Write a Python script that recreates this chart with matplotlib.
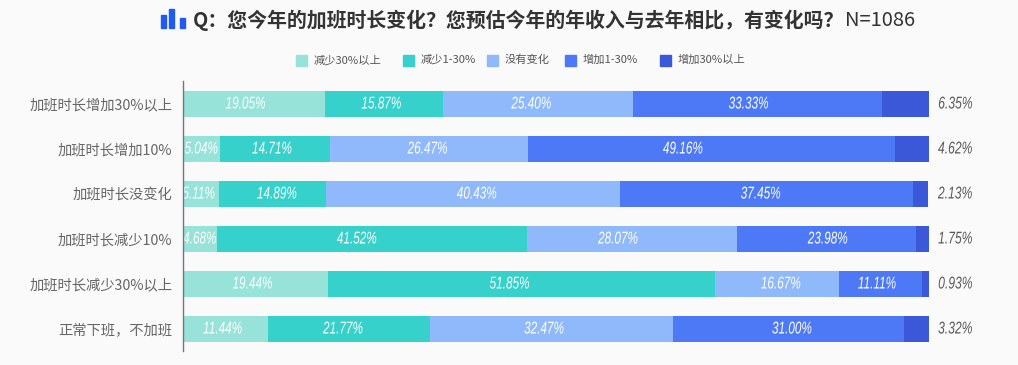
import matplotlib
matplotlib.use("Agg")
from matplotlib import pyplot as plt
from matplotlib.patches import Rectangle
from matplotlib.patheffects import AbstractPathEffect
from matplotlib.transforms import Affine2D

plt.rcParams['font.family'] = ['Noto Sans CJK SC', 'DejaVu Sans']

categories = ['加班时长增加30%以上', '加班时长增加10%', '加班时长没变化',
              '加班时长减少10%', '加班时长减少30%以上', '正常下班，不加班']
series_names = ['减少30%以上', '减少1-30%', '没有变化', '增加1-30%', '增加30%以上']
cut_30 = [19.05, 5.04, 5.11, 4.68, 19.44, 11.44]
cut_1_30 = [15.87, 14.71, 14.89, 41.52, 51.85, 21.77]
same = [25.40, 26.47, 40.43, 28.07, 16.67, 32.47]
up_1_30 = [33.33, 49.16, 37.45, 23.98, 11.11, 31.00]
up_30 = [6.35, 4.62, 2.13, 1.75, 0.93, 3.32]
series = [cut_30, cut_1_30, same, up_1_30, up_30]
# third row: the bars as drawn do not follow the printed numbers
row3_drawn = [4.9, 14.3, 39.4, 39.2, 2.1]
colors = ['#97e3da', '#37d1cb', '#8fb9fa', '#4d79f6', '#3a58d8']

# labels in the original sit off centre, pixels per series then row
label_nudge = [[-8, 0, -2, 0, -2.5, -2.5],
               [-2.5, -3, 4.5, -15.5, -11.5, -6],
               [-6.5, -1, 4, -14, 4, -7.5],
               [-8.5, -28, -5.5, 1.5, -3.5, 3.5]]


# no condensed italic installed, so squeeze the glyphs of a normal one
class Squeeze(AbstractPathEffect):
    def __init__(self, sx, anchor='center'):
        super().__init__()
        self.sx = sx
        self.anchor = anchor

    def draw_path(self, renderer, gc, tpath, affine, rgbFace=None):
        ext = tpath.get_extents()
        x0 = ext.x0 if self.anchor == 'left' else (ext.x0 + ext.x1) / 2
        t = Affine2D().translate(-x0, 0).scale(self.sx, 1).translate(x0, 0)
        renderer.draw_path(gc, tpath, t + affine, rgbFace)


W, H = 1018, 365
fig = plt.figure(figsize=(W / 100, H / 100), dpi=100, facecolor='#fafafa')

# axes placed in pixel terms, y runs down through the rows
ax = fig.add_axes([182.5 / W, 1 - 351 / H, (929 - 182.5) / W, 270 / H])
ax.set_facecolor('#fafafa')
ax.set_xlim(0, 100)
ax.set_ylim(5.489, -0.511)
for s in ['top', 'right', 'bottom']:
    ax.spines[s].set_visible(False)
ax.spines['left'].set_color('#75757f')
ax.spines['left'].set_linewidth(1)
ax.spines['left'].set_zorder(5)
ax.set_xticks([])
ax.set_yticks(range(len(categories)))
ax.set_yticklabels(categories, fontsize=10.3, color='#666666')
ax.tick_params(axis='y', length=0, pad=7.5)

num_font = dict(family=['Liberation Sans', 'DejaVu Sans'], style='italic', fontsize=12.3)

left = [0] * len(categories)
for i, vals in enumerate(series):
    widths = list(vals)
    widths[2] = row3_drawn[i]
    ax.barh(range(len(categories)), widths, left=left, height=26 / 45, color=colors[i])
    for r, v in enumerate(vals):
        if i < 4:
            ax.annotate('%.2f%%' % v, (left[r] + widths[r] / 2, r),
                        xytext=(label_nudge[i][r], 0), textcoords='offset pixels',
                        ha='center', va='center', color='white',
                        path_effects=[Squeeze(0.69)], **num_font)
        else:
            ax.text(101.2, r, '%.2f%%' % v, ha='left', va='center',
                    color='#5a5a5a', path_effects=[Squeeze(0.71, 'left')], **num_font)
    left = [a + b for a, b in zip(left, widths)]

# title with the little bar icon
for x0, top in [(161, 15), (169, 9), (180, 18)]:
    fig.add_artist(Rectangle((x0 / W, 1 - 28 / H), 5 / W, (28 - top) / H,
                             transform=fig.transFigure, color='#1f5bf0'))
fig.text(193 / W, 1 - 20 / H, 'Q：您今年的加班时长变化？您预估今年的年收入与去年相比，有变化吗？',
         fontsize=14.35, fontweight='bold', color='#333333', va='center')
fig.text(845 / W, 1 - 20 / H, 'N=1086', fontsize=14.5, color='#333333', va='center')

# legend drawn by hand to hold the spacing
legend_x = [296, 403, 487, 565, 660]
for x0, name, c in zip(legend_x, series_names, colors):
    fig.add_artist(Rectangle((x0 / W, 1 - 66 / H), 11 / W, 11 / H,
                             transform=fig.transFigure, color=c))
    fig.text((x0 + 18) / W, 1 - 60 / H, name, fontsize=8.1, color='#555555', va='center')

fig.savefig('out.png', dpi=100, facecolor=fig.get_facecolor())
